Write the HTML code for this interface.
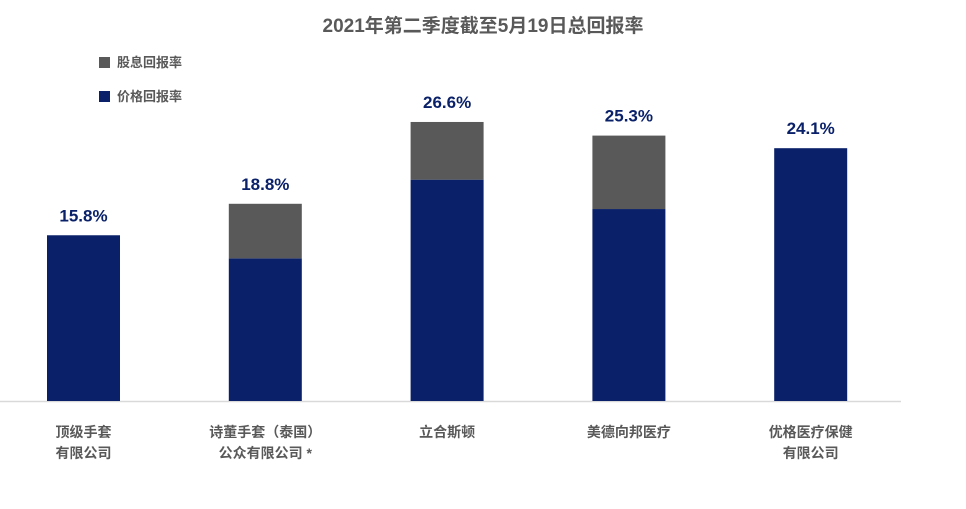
<!DOCTYPE html>
<html><head><meta charset="utf-8"><style>
body{margin:0;background:#fff;width:966px;height:504px;overflow:hidden;font-family:"Liberation Sans","Noto Sans CJK SC",sans-serif;}
</style></head><body>
<svg id="c" width="966" height="504" xmlns="http://www.w3.org/2000/svg">
<text x="483" y="32" text-anchor="middle" font-size="19" font-weight="bold" fill="#595959" font-family="Liberation Sans, Noto Sans CJK SC, sans-serif">2021年第二季度截至5月19日总回报率</text>
<g>
<rect x="99" y="57" width="11" height="11" fill="#595959"/>
<text x="117" y="67" font-size="13" font-weight="bold" fill="#595959" font-family="Liberation Sans, Noto Sans CJK SC, sans-serif">股息回报率</text>
<rect x="99" y="91" width="11" height="11" fill="#0a2169"/>
<text x="117" y="101" font-size="13" font-weight="bold" fill="#595959" font-family="Liberation Sans, Noto Sans CJK SC, sans-serif">价格回报率</text>
</g>
<line x1="0" y1="401.5" x2="901" y2="401.5" stroke="#d9d9d9" stroke-width="1.5"/>
<g id="bars"></g>
</svg>
<script>
const categories=[["顶级手套","有限公司"],["诗董手套（泰国）","公众有限公司 *"],["立合斯顿"],["美德向邦医疗"],["优格医疗保健","有限公司"]];
const priceReturn=[15.8,13.6,21.1,18.3,24.1];
const dividendReturn=[0,5.2,5.5,7.0,0];
const totalLabels=["15.8%","18.8%","26.6%","25.3%","24.1%"];
const ns="http://www.w3.org/2000/svg";
const base=401, pxPer=10.49, x0=83.5, step=181.8, bw=73;
const y=v=>base-v*pxPer;
const xc=i=>x0+i*step;
const g=document.getElementById('bars');
function mk(t,a){const e=document.createElementNS(ns,t);for(const k in a)e.setAttribute(k,a[k]);g.appendChild(e);return e;}
categories.forEach((c,i)=>{
  const p=priceReturn[i],d=dividendReturn[i];
  const r1=mk('rect',{x:xc(i)-bw/2,y:y(p),width:bw,height:base-y(p),fill:'#0a2169'});
  
  
  if(d>0){const r2=mk('rect',{x:xc(i)-bw/2,y:y(p+d),width:bw,height:y(p)-y(p+d),fill:'#595959'});
  
  }
  const t=mk('text',{x:xc(i),y:y(p+d)-14,'text-anchor':'middle','font-size':'17','font-weight':'bold',fill:'#0a2169','font-family':'Liberation Sans, Noto Sans CJK SC, sans-serif'});
  t.textContent=totalLabels[i];
  
  
  c.forEach((line,j)=>{
    const l=mk('text',{x:xc(i),y:437+j*21,'text-anchor':'middle','font-size':'14','font-weight':'bold',fill:'#595959','font-family':'Liberation Sans, Noto Sans CJK SC, sans-serif'});
    l.textContent=line;
    
    
  });
});
</script>
</body></html>
